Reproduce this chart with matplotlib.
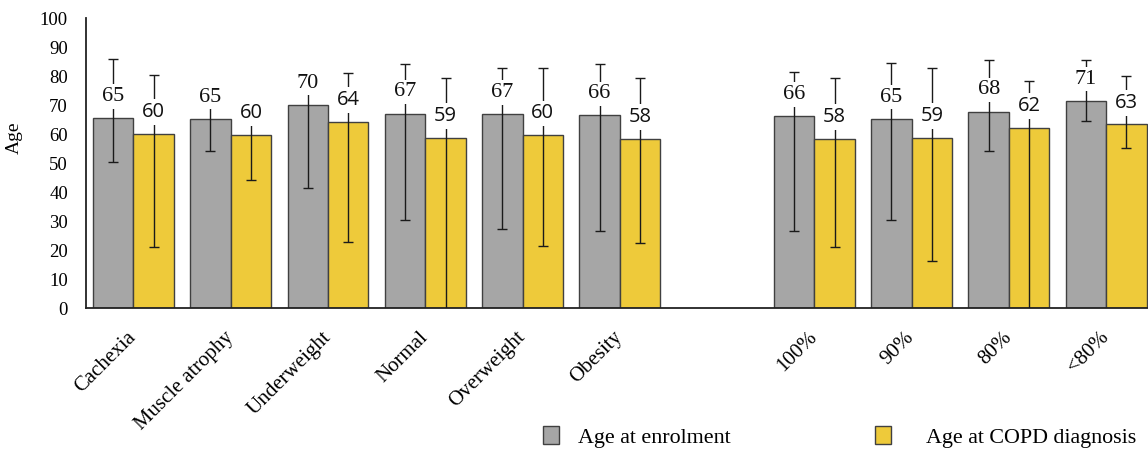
import numpy as np
import matplotlib.pyplot as plt
from matplotlib.patches import Patch

# ------------------------------------------------------------------
# Age at enrolment vs. age at COPD diagnosis, by body composition
# group and by FEV1 category
# ------------------------------------------------------------------
categories = ['Cachexia', 'Muscle atrophy', 'Underweight', 'Normal',
              'Overweight', 'Obesity', '100%', '90%', '80%', '<80%']
slots = [0, 1, 2, 3, 4, 5, 7, 8, 9, 10]   # empty slot between the two blocks

enrol_mean = [65.4, 65.2, 70.0, 67.0, 66.8, 66.4, 66.1, 65.2, 67.7, 71.4]
enrol_low = [50.2, 54.2, 41.3, 30.3, 27.3, 26.7, 26.7, 30.3, 54.2, 64.6]
enrol_high = [85.8, 76.0, 80.0, 84.0, 82.9, 84.0, 81.5, 84.4, 85.6, 85.4]

copd_mean = [60.1, 59.7, 64.2, 58.7, 59.6, 58.3, 58.3, 58.7, 62.2, 63.3]
copd_low = [20.9, 44.0, 22.6, -5.0, 21.5, 22.5, 20.9, 16.3, -5.0, 55.2]
copd_high = [80.4, 70.0, 80.9, 79.4, 82.9, 79.4, 79.4, 82.9, 78.4, 80.1]

GRAY = '#A6A6A6'
YELLOW = '#EECA3A'
EDGE = '#404040'

serif = ['Liberation Serif', 'DejaVu Serif']
sans = ['Open Sans', 'DejaVu Sans']

fig = plt.figure(figsize=(11.48, 4.51), dpi=100)
ax = fig.add_axes([0.0749, 0.317, 0.9251, 0.643])

x = np.array(slots, dtype=float)
w = 0.416

series = [
    (x - w / 2, enrol_mean, enrol_low, enrol_high, GRAY, serif, 16),
    (x + w / 2, copd_mean, copd_low, copd_high, YELLOW, sans, 14.5),
]

for xs, mean, low, high, color, fam, fsize in series:
    mean = np.array(mean)
    yerr = [mean - np.array(low), np.array(high) - mean]
    ax.bar(xs, mean, width=w, color=color, edgecolor=EDGE, linewidth=1.0,
           zorder=2)
    ax.errorbar(xs, mean, yerr=yerr, fmt='none', ecolor='#1a1a1a',
                elinewidth=1.0, capsize=3.4, capthick=1.0, zorder=3)
    # value labels sit on a white box that masks the error line behind them
    for xi, m in zip(xs, mean):
        ax.text(xi, m + 7.5, f'{m:.0f}', ha='center', va='center',
                fontsize=fsize, family=fam, color='#111111', zorder=4,
                bbox=dict(facecolor='white', edgecolor='none', pad=2.0))

ax.set_xlim(-0.488, 10.43)
ax.set_ylim(0, 100)
ax.set_yticks(range(0, 101, 10))
ax.tick_params(axis='y', length=0, pad=13, labelsize=13.5)
for lab in ax.get_yticklabels():
    lab.set_family(serif)

ax.set_xticks(slots)
ax.set_xticklabels(categories, rotation=45, ha='right', va='center',
                   rotation_mode='anchor', family=serif, fontsize=15)
ax.tick_params(axis='x', length=0, pad=19)

ax.set_ylabel('Age', family=serif, fontsize=14)
ax.yaxis.set_label_coords(-0.0593, 0.586)

for side in ('top', 'right'):
    ax.spines[side].set_visible(False)
for side in ('left', 'bottom'):
    ax.spines[side].set_color('#222222')
    ax.spines[side].set_linewidth(1.3)

# two separate legend entries, spread along the bottom edge
legend_items = [
    (GRAY, 'Age at enrolment', 0.473, 0.87),
    (YELLOW, 'Age at COPD diagnosis', 0.762, 1.6),
]
for color, label, x0, textpad in legend_items:
    fig.legend(handles=[Patch(facecolor=color, edgecolor=EDGE, label=label)],
               loc='center left', bbox_to_anchor=(x0, 0.031), frameon=False,
               prop={'family': serif, 'size': 15.8},
               handlelength=0.73, handleheight=0.9, handletextpad=textpad,
               borderpad=0, borderaxespad=0)

fig.savefig('out.png', dpi=100)
